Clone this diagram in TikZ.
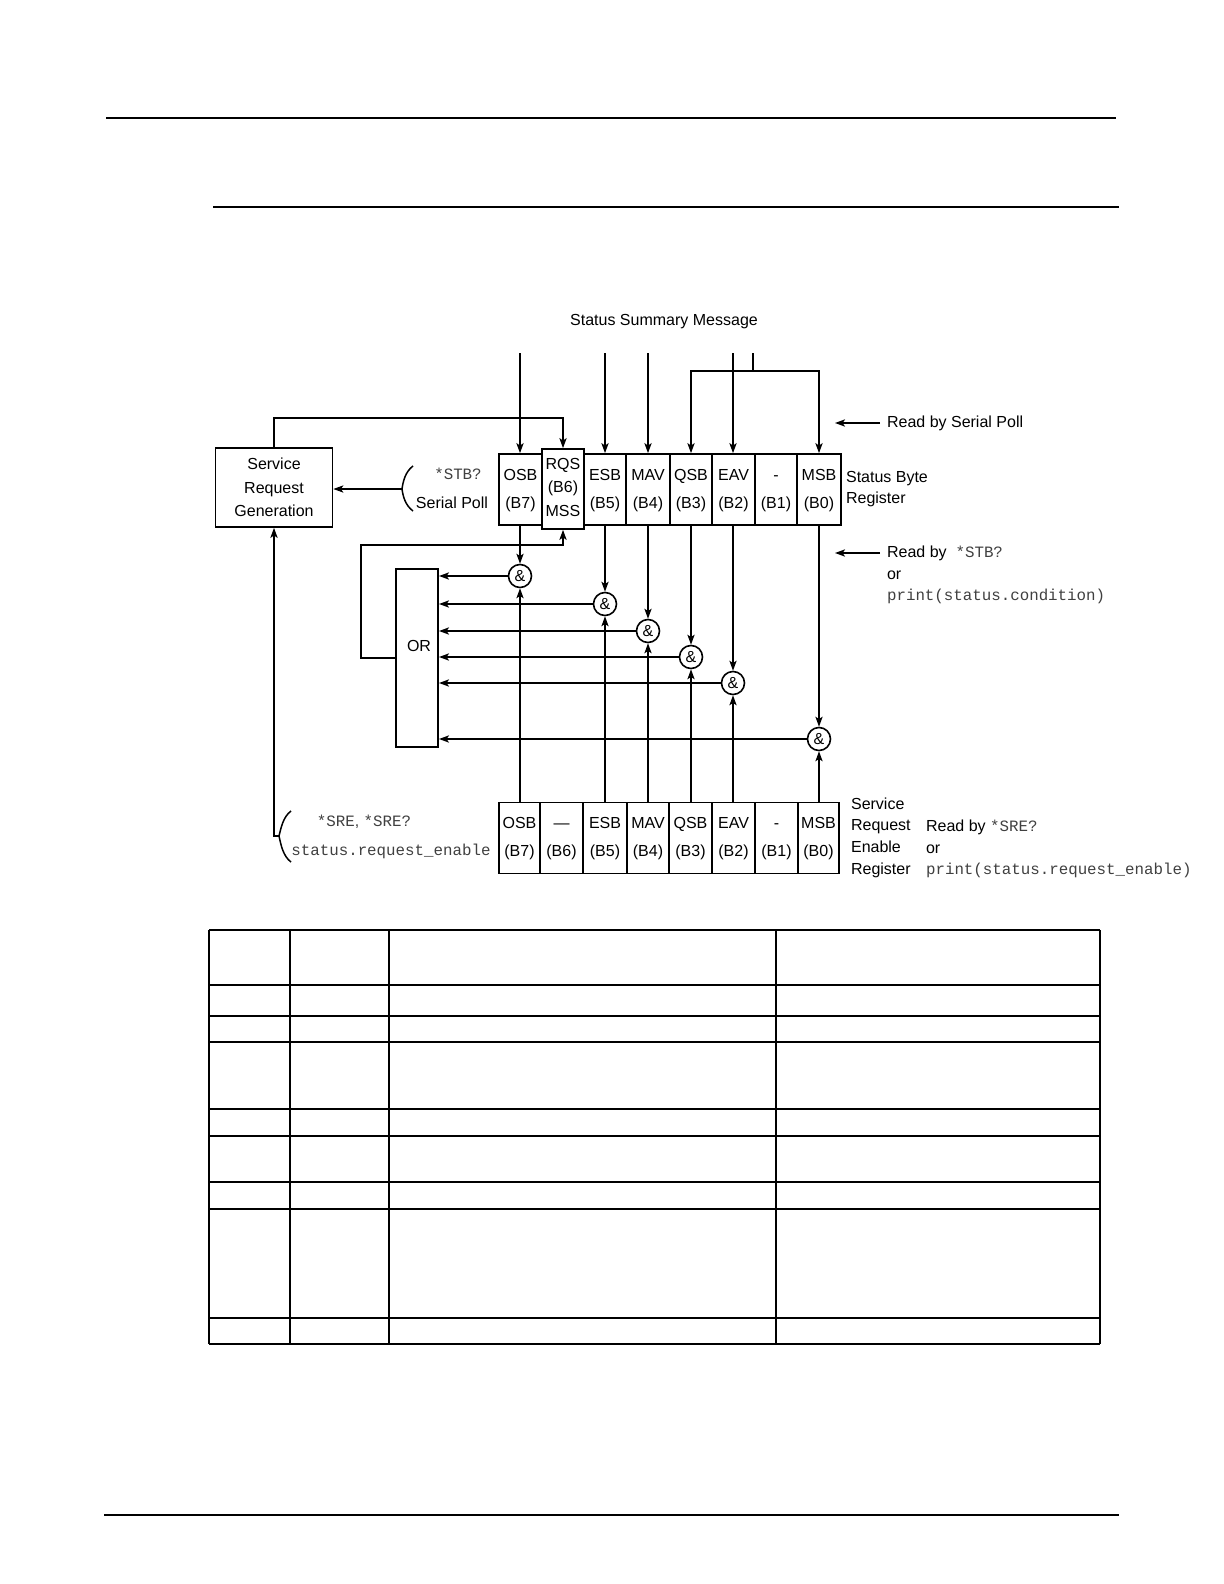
\documentclass[tikz,border=0pt]{standalone}
\usepackage{fontspec}
\setmainfont{Liberation Sans}
\setmonofont{Liberation Mono}
\usetikzlibrary{arrows.meta}
\newcommand{\cmd}[1]{{\ttfamily\fontsize{7.9}{9}\selectfont\color{black!75}#1}}
\tikzset{
  wire/.style={line width=0.75pt},
  sig/.style={wire,-{Stealth[length=5pt,width=3.6pt,inset=1.2pt]}},
  bit/.style={draw,line width=0.85pt,inner sep=0pt,align=center,minimum height=35.5pt,text height=20.5pt,text depth=1.8pt,font=\fontsize{8}{14}\selectfont},
  gate/.style={circle,draw,line width=0.8pt,minimum size=11.5pt,inner sep=0pt},
  lbl/.style={align=left,anchor=west},
  code/.style={font=\ttfamily\fontsize{7.9}{9}\selectfont,text=black!75},
}
\begin{document}
\begin{tikzpicture}[x=0.5pt,y=-0.5pt,font=\fontsize{8}{10}\selectfont]
\useasboundingbox (0,0) rectangle (1224,1584);
% page rules
\draw[line width=0.8pt] (106,118) -- (1116,118);
\draw[line width=0.8pt] (213,207) -- (1119,207);
\draw[line width=0.8pt] (104,1515) -- (1119,1515);

\node (ssm) at (664,322) {Status Summary Message};

% status byte register
\node (osbA) at (520.5,489.5) [bit,minimum width=21.5pt] {OSB\\(B7)};
\node (esbA) at (605,489.5) [bit,minimum width=21pt] {ESB\\(B5)};
\node (mavA) at (648,489.5) [bit,minimum width=22pt] {MAV\\(B4)};
\node (qsbA) at (691,489.5) [bit,minimum width=21pt] {QSB\\(B3)};
\node (eavA) at (733.5,489.5) [bit,minimum width=21.5pt] {EAV\\(B2)};
\node (nulA) at (776,489.5) [bit,minimum width=21pt] {-\\(B1)};
\node (msbA) at (819,489.5) [bit,minimum width=22pt] {MSB\\(B0)};
\node (rqs) at (563,489) [bit,fill=white,minimum width=21pt,minimum height=40pt,text height=29pt,text depth=1.8pt,font=\fontsize{8}{11.75}\selectfont] {RQS\\(B6)\\MSS};
\node at (839,489) [lbl,font=\fontsize{8}{10.5}\selectfont] {Status Byte\\Register};

% service request enable register
\node (osbB) at (519.5,838) [bit,minimum width=20.5pt] {OSB\\(B7)};
\node (b6B) at (561.5,838) [bit,minimum width=21.5pt] {---\\(B6)};
\node (esbB) at (605,838) [bit,minimum width=22pt] {ESB\\(B5)};
\node (mavB) at (648,838) [bit,minimum width=21pt] {MAV\\(B4)};
\node (qsbB) at (690.5,838) [bit,minimum width=21.5pt] {QSB\\(B3)};
\node (eavB) at (733.5,838) [bit,minimum width=21.5pt] {EAV\\(B2)};
\node (nulB) at (776.5,838) [bit,minimum width=21.5pt] {-\\(B1)};
\node (msbB) at (818.5,838) [bit,minimum width=20.5pt] {MSB\\(B0)};
\node at (844,837.5) [lbl,font=\fontsize{8}{10.85}\selectfont] {Service\\Request\\Enable\\Register};
\node at (919,849) [lbl,font=\fontsize{8}{10.85}\selectfont] {Read by \cmd{*SRE?}\\or\\\cmd{print(status.request\_enable)}};

% service request generation and OR
\node (srg) at (274,487.5) [draw,line width=0.85pt,minimum width=58.5pt,minimum height=39.5pt,align=center,font=\fontsize{8}{11.75}\selectfont] {Service\\Request\\Generation};
\node (orgate) at (417,658) [draw,line width=1pt,minimum width=21pt,minimum height=89pt] {};
\node (ortext) at (419,646) {OR};

% and gates
\node (g7) at (520,576) [gate] {\&};
\node (g5) at (605,604) [gate] {\&};
\node (g4) at (648,631) [gate] {\&};
\node (g3) at (691,657) [gate] {\&};
\node (g2) at (733,683) [gate] {\&};
\node (g0) at (819,739) [gate] {\&};

% summary inputs
\coordinate (in7) at (520,353);
\coordinate (in5) at (605,353);
\coordinate (in4) at (648,353);
\coordinate (in2) at (733,353);
\coordinate (inq) at (753,353);
\coordinate (split) at (753,371);
\draw[sig] (in7) -- (in7 |- osbA.north);
\draw[sig] (in5) -- (esbA);
\draw[sig] (in4) -- (mavA);
\draw[sig] (in2) -- (in2 |- eavA.north);
\draw[wire] (inq) -- (split);
\draw[sig] (split) -| (qsbA);
\draw[sig] (split) -| (msbA);

% rqs loop
\coordinate (rqsin) at (563,418);
\draw[sig] (srg) |- (rqsin) -- (rqs);
\coordinate (fb) at (361,545);
\draw[sig] (orgate) -| (fb) -- (fb -| rqs) -- (rqs);

% gate wiring
\draw[sig] (osbA.south -| g7) -- (g7);
\draw[sig] (osbB.north -| g7) -- (g7);
\draw[sig] (g7) -- (g7 -| orgate.east);
\draw[sig] (esbA.south -| g5) -- (g5);
\draw[sig] (esbB.north -| g5) -- (g5);
\draw[sig] (g5) -- (g5 -| orgate.east);
\draw[sig] (mavA.south -| g4) -- (g4);
\draw[sig] (mavB.north -| g4) -- (g4);
\draw[sig] (g4) -- (g4 -| orgate.east);
\draw[sig] (qsbA.south -| g3) -- (g3);
\draw[sig] (qsbB.north -| g3) -- (g3);
\draw[sig] (g3) -- (g3 -| orgate.east);
\draw[sig] (eavA.south -| g2) -- (g2);
\draw[sig] (eavB.north -| g2) -- (g2);
\draw[sig] (g2) -- (g2 -| orgate.east);
\draw[sig] (msbA.south -| g0) -- (g0);
\draw[sig] (msbB.north -| g0) -- (g0);
\draw[sig] (g0) -- (g0 -| orgate.east);

% serial poll
\coordinate (stbcusp) at (402,489);
\draw[wire] (413,466) .. controls (405,472) and (403,482) .. (stbcusp) .. controls (403,496) and (405,505) .. (413,511);
\draw[sig] (stbcusp) -- (stbcusp -| srg.east);
\node (stb) at (458,474) [code] {*STB?};
\node (spoll) at (452,503) {Serial Poll};

% enable commands
\coordinate (srecusp) at (279,836);
\draw[wire] (291,811) .. controls (283,817) and (281,828) .. (srecusp) .. controls (281,845) and (283,856) .. (291,862);
\draw[sig] (srecusp) -- (srecusp -| srg) -- (srg);
\node (sre) at (364,822) [code] {*SRE{\rmfamily, }*SRE?};
\node (sreq) at (291,851) [code,anchor=west,inner sep=0pt] {status.request\_enable};

% read labels
\node (rdsp) at (880,423) [anchor=west] {Read by Serial Poll};
\coordinate (rdspend) at (835,423);
\draw[sig] (rdsp) -- (rdspend);
\node (rdstb) at (880,553) [anchor=west] {Read by~ \cmd{*STB?}};
\node at (880,575) [anchor=west] {or};
\node at (880,596) [anchor=west] {\cmd{print(status.condition)}};
\coordinate (rdstbend) at (835,553);
\draw[sig] (rdstb) -- (rdstbend);

% table
\draw[line width=0.65pt] (209,930) -- (1100,930) (209,1109) -- (1100,1109) (209,1182) -- (1100,1182) (209,1344) -- (1100,1344);
\draw[line width=1.35pt] (209,985) -- (1100,985) (209,1016) -- (1100,1016) (209,1042) -- (1100,1042) (209,1136) -- (1100,1136) (209,1209) -- (1100,1209) (209,1318) -- (1100,1318);
\draw[line width=0.85pt] (209,930) -- (209,1344) (290,930) -- (290,1344) (389,930) -- (389,1344) (776,930) -- (776,1344) (1100,930) -- (1100,1344);
\end{tikzpicture}
\end{document}
